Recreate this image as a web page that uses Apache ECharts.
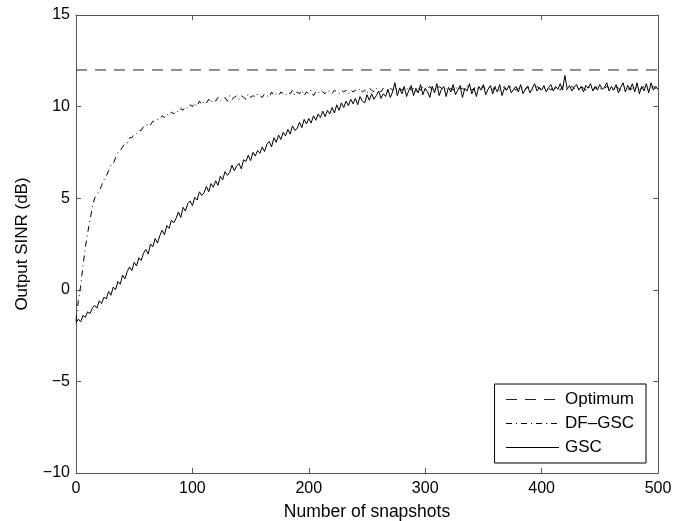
<!DOCTYPE html>
<html>
<head>
<meta charset="utf-8">
<script src="https://cdn.jsdelivr.net/npm/echarts@6/dist/echarts.min.js"></script>
<style>
html, body { margin: 0; padding: 0; background: #fff; }
#chart { width: 688px; height: 521px; }
</style>
</head>
<body>
<div id="chart"></div>
<script>
// snapshot spacing of the sampled curves
var snapStep = 2;

// optimum SINR (flat line)
var optimumX = [0, 500];
var optimumY = [12, 12];

// GSC output SINR, one value every 2 snapshots (0..500)
var gscSinr = [
  -1.8, -1.6, -1.75, -1.4, -1.5, -1.2, -1.3, -1.0, -0.85, -1.0,
  -0.6, -0.75, -0.4, -0.5, -0.1, -0.3, 0.15, 0.0, 0.45, 0.3,
  0.8, 0.6, 1.0, 1.25, 1.05, 1.5, 1.3, 1.75, 1.6, 2.0,
  2.2, 1.95, 2.5, 2.35, 2.8, 2.55, 2.95, 3.25, 3.0, 3.5,
  3.35, 3.8, 3.65, 3.9, 4.25, 3.95, 4.5, 4.3, 4.7, 4.85,
  4.6, 5.05, 4.9, 5.35, 5.15, 5.3, 5.65, 5.35, 5.8, 5.6,
  5.95, 5.7, 6.2, 6.0, 6.45, 6.25, 6.4, 6.8, 6.5, 6.75,
  6.9, 6.6, 7.1, 7.0, 7.35, 7.05, 7.5, 7.3, 7.6, 7.45,
  7.8, 7.55, 7.95, 8.1, 7.8, 8.3, 8.05, 8.45, 8.2, 8.6,
  8.4, 8.75, 8.5, 8.95, 8.7, 8.8, 9.15, 8.85, 9.3, 9.05,
  9.35, 9.1, 9.5, 9.25, 9.6, 9.4, 9.75, 9.45, 9.8, 9.6,
  9.95, 9.65, 10.1, 9.8, 10.2, 9.95, 10.3, 10.05, 10.4, 10.15,
  10.45, 10.1, 10.55, 10.3, 10.2, 10.65, 10.35, 10.7, 10.4, 10.6,
  10.85, 10.45, 10.7, 10.55, 10.95, 10.5, 10.8, 11.3, 10.6, 11.0,
  10.7, 11.1, 10.55, 10.9, 11.15, 10.6, 11.0, 10.75, 11.2, 10.65,
  11.0, 10.8, 10.5, 11.1, 10.75, 11.25, 10.6, 10.95, 11.1, 10.55,
  11.05, 10.8, 11.2, 10.65, 10.9, 11.15, 10.5, 11.0, 10.85, 11.25,
  10.7, 11.0, 10.55, 11.1, 10.9, 11.2, 10.65, 10.95, 11.15, 10.7,
  11.05, 10.8, 11.2, 10.6, 11.0, 10.9, 11.15, 10.75, 10.95, 11.1,
  10.8, 11.2, 10.7, 10.95, 11.1, 10.75, 11.0, 11.25, 10.85, 11.05,
  10.9, 11.15, 10.8, 11.05, 11.2, 10.85, 11.1, 10.95, 11.25, 10.9,
  11.7, 10.95, 11.15, 10.85, 11.05, 11.2, 10.9, 11.1, 10.8, 11.15,
  11.0, 11.25, 10.85, 11.1, 10.9, 11.2, 10.95, 11.05, 11.3, 10.85,
  11.1, 10.9, 11.2, 10.75, 11.05, 11.3, 10.8, 11.15, 10.95, 11.25,
  10.8, 11.3, 10.7, 11.1, 10.85, 11.25, 10.75, 11.3, 10.9, 11.1,
  10.95
];

// DF-GSC output SINR, one value every 2 snapshots (0..500)
var dfgscSinr = [
  -1.7, -0.6, 0.2, 1.3, 2.3, 3.1, 3.8, 4.5, 5.0, 5.2,
  5.4, 5.7, 6.0, 6.2, 6.5, 6.8, 6.9, 7.2, 7.5, 7.6,
  7.8, 8.0, 8.0, 8.3, 8.3, 8.5, 8.5, 8.7, 8.7, 8.9,
  8.9, 9.1, 9.0, 9.2, 9.2, 9.3, 9.3, 9.5, 9.4, 9.6,
  9.5, 9.7, 9.6, 9.8, 9.7, 9.9, 9.8, 10.0, 9.9, 10.1,
  10.0, 10.2, 10.0, 10.3, 10.1, 10.3, 10.2, 10.4, 10.2, 10.4,
  10.3, 10.5, 10.3, 10.4, 10.5, 10.3, 10.6, 10.4, 10.5, 10.6,
  10.4, 10.6, 10.5, 10.4, 10.7, 10.5, 10.6, 10.5, 10.7, 10.6,
  10.5, 10.7, 10.6, 10.5, 10.8, 10.6, 10.7, 10.6, 10.8, 10.7,
  10.6, 10.8, 10.7, 10.9, 10.6, 10.8, 10.7, 10.9, 10.6, 10.8,
  10.7, 10.9, 10.6, 10.8, 10.7, 10.9, 10.8, 10.7, 10.9, 10.8,
  10.7, 10.9, 10.8, 10.7, 10.9, 10.8, 10.9, 10.7, 10.9, 10.8,
  10.9, 10.8, 11.0, 10.8, 10.9, 10.7, 11.0, 10.9, 10.8, 11.0,
  10.9, 10.8, 11.0, 10.9, 10.8, 11.0, 10.9, 11.1, 10.9, 11.0,
  10.9, 11.0, 10.9, 11.1, 10.9, 11.0, 10.8, 11.0, 10.9, 11.1,
  10.9, 11.0, 11.1, 10.9, 11.0, 10.9, 11.1, 11.0, 10.9, 11.0,
  10.9, 11.0, 10.9, 11.1, 10.9, 11.0, 11.0, 10.9, 11.1, 11.0,
  10.9, 11.0, 11.1, 10.9, 11.0, 11.1, 10.9, 11.0, 11.0, 10.9,
  11.1, 11.0, 10.9, 11.0, 11.1, 10.9, 11.0, 11.1, 11.0, 10.9,
  11.0, 11.1, 11.0, 10.9, 11.1, 11.0, 10.9, 11.0, 11.1, 11.0,
  10.9, 11.0, 11.1, 11.0, 10.9, 11.1, 11.0, 11.0, 10.9, 11.1,
  11.0, 10.9, 11.0, 11.1, 11.0, 10.9, 11.0, 11.1, 11.0, 10.9,
  11.1, 11.0, 10.9, 11.0, 11.1, 11.0, 10.9, 11.0, 11.1, 11.0,
  10.9, 11.0, 11.1, 11.0, 10.9, 11.0, 11.1, 11.0, 10.9, 11.0,
  11.1, 11.0, 10.9, 11.0, 11.1, 11.0, 10.9, 11.0, 11.1, 11.0,
  11.0
];

var seriesNames = ['Optimum', 'DF\u2013GSC', 'GSC'];

// pair values with their snapshot index
function toPairs(vals) {
  var out = [];
  for (var i = 0; i < vals.length; i++) {
    out.push([i * snapStep, vals[i]]);
  }
  return out;
}
var optimumData = [];
for (var k = 0; k < optimumX.length; k++) optimumData.push([optimumX[k], optimumY[k]]);

var font = 'Liberation Sans, Arial, Helvetica, sans-serif';
var boxColor = '#555';

function minusFmt(v) {
  return v < 0 ? '\u2212' + Math.abs(v) : '' + v;
}

var myChart = echarts.init(document.getElementById('chart'), null, { renderer: 'canvas' });

var option = {
  animation: false,
  backgroundColor: '#fff',
  grid: { left: 76, right: 30, top: 15, bottom: 48, containLabel: false, outerBoundsMode: 'none' },
  legend: {
    data: seriesNames,
    orient: 'vertical',
    right: 42,
    bottom: 58,
    itemWidth: 53,
    itemHeight: 14,
    itemGap: 7,
    padding: [7, 12, 7, 11],
    backgroundColor: '#fff',
    borderColor: '#000',
    borderWidth: 1,
    borderRadius: 0,
    itemStyle: { opacity: 0 },
    lineStyle: { width: 1 },
    textStyle: { fontFamily: font, fontSize: 17, color: '#000', padding: [0, 0, 0, 1] }
  },
  xAxis: [
    {
      type: 'value', min: 0, max: 500, interval: 100, position: 'bottom',
      name: 'Number of snapshots', nameLocation: 'middle', nameGap: 30,
      nameTextStyle: { fontFamily: font, fontSize: 17.5, color: '#000' },
      axisLine: { show: true, onZero: false, lineStyle: { color: boxColor, width: 1 } },
      axisTick: { show: true, inside: true, length: 5, lineStyle: { color: boxColor } },
      axisLabel: { fontFamily: font, fontSize: 16, color: '#000', margin: 8 },
      splitLine: { show: false }
    },
    {
      type: 'value', min: 0, max: 500, interval: 100, position: 'top',
      axisLine: { show: true, onZero: false, lineStyle: { color: boxColor, width: 1 } },
      axisTick: { show: true, inside: true, length: 5, lineStyle: { color: boxColor } },
      axisLabel: { show: false },
      splitLine: { show: false }
    }
  ],
  yAxis: [
    {
      type: 'value', min: -10, max: 15, interval: 5, position: 'left',
      name: 'Output SINR (dB)', nameLocation: 'middle', nameGap: 45, nameRotate: 90,
      nameTextStyle: { fontFamily: font, fontSize: 17, color: '#000' },
      axisLine: { show: true, onZero: false, lineStyle: { color: boxColor, width: 1 } },
      axisTick: { show: true, inside: true, length: 5, lineStyle: { color: boxColor } },
      axisLabel: { fontFamily: font, fontSize: 16, color: '#000', margin: 6, formatter: minusFmt },
      splitLine: { show: false }
    },
    {
      type: 'value', min: -10, max: 15, interval: 5, position: 'right',
      axisLine: { show: true, onZero: false, lineStyle: { color: boxColor, width: 1 } },
      axisTick: { show: true, inside: true, length: 5, lineStyle: { color: boxColor } },
      axisLabel: { show: false },
      splitLine: { show: false }
    }
  ],
  series: [
    {
      name: seriesNames[0], type: 'line', data: optimumData,
      symbol: 'none', silent: true,
      lineStyle: { color: '#222', width: 1, type: [11, 8] },
      itemStyle: { color: '#222' }
    },
    {
      name: seriesNames[1], type: 'line', data: toPairs(dfgscSinr),
      symbol: 'none', silent: true,
      lineStyle: { color: '#000', width: 1, type: [6, 4, 1, 4] },
      itemStyle: { color: '#000' }
    },
    {
      name: seriesNames[2], type: 'line', data: toPairs(gscSinr),
      symbol: 'none', silent: true,
      lineStyle: { color: '#000', width: 1 },
      itemStyle: { color: '#000' }
    }
  ]
};

myChart.setOption(option);
</script>
</body>
</html>
